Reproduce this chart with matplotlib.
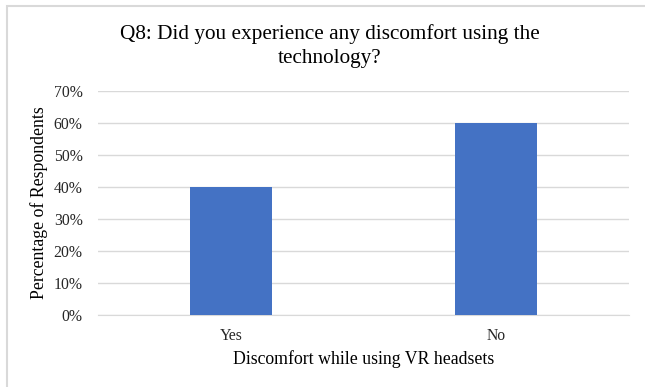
import matplotlib.pyplot as plt
from matplotlib.patches import Rectangle
from matplotlib.ticker import PercentFormatter

plt.rcParams['font.family'] = ['Liberation Serif', 'DejaVu Serif']

categories = ['Yes', 'No']
shares = [40, 60]
y_ticks = [0, 10, 20, 30, 40, 50, 60, 70]

fig = plt.figure(figsize=(6.45, 3.87), dpi=100)
ax = fig.add_axes([98 / 645, 1 - 315 / 387, 531 / 645, 224 / 387])

# light frame around the chart area
fig.patches.append(Rectangle((7 / 645, -0.1), 1.2, 1 - 6 / 387 + 0.1,
                             transform=fig.transFigure, fill=False,
                             edgecolor='#D9D9D9', linewidth=1.5))

x = range(len(categories))
ax.bar(x, shares, width=0.31, color='#4472C4', zorder=3)

ax.set_xlim(-0.5, 1.5)
ax.set_ylim(0, 70)
ax.set_yticks(y_ticks)
ax.yaxis.set_major_formatter(PercentFormatter(decimals=0))
ax.set_xticks(list(x))
ax.set_xticklabels(categories)
ax.grid(axis='y', color='#D9D9D9', linewidth=1, zorder=0)
for side in ['top', 'right', 'left']:
    ax.spines[side].set_visible(False)
ax.spines['bottom'].set_color('#D9D9D9')
ax.tick_params(length=0, labelsize=11.3, colors='#262626')
ax.tick_params(axis='y', pad=11)
ax.tick_params(axis='x', pad=9)

ax.set_xlabel('Discomfort while using VR headsets', fontsize=12.8, labelpad=5)
ax.set_ylabel('Percentage of Respondents', fontsize=12.8, labelpad=4)

fig.text(330 / 645, 1 - 46 / 387,
         'Q8: Did you experience any discomfort using the\ntechnology?',
         ha='center', va='center', fontsize=15.3, linespacing=1.4)

fig.savefig('out.png', dpi=100)
